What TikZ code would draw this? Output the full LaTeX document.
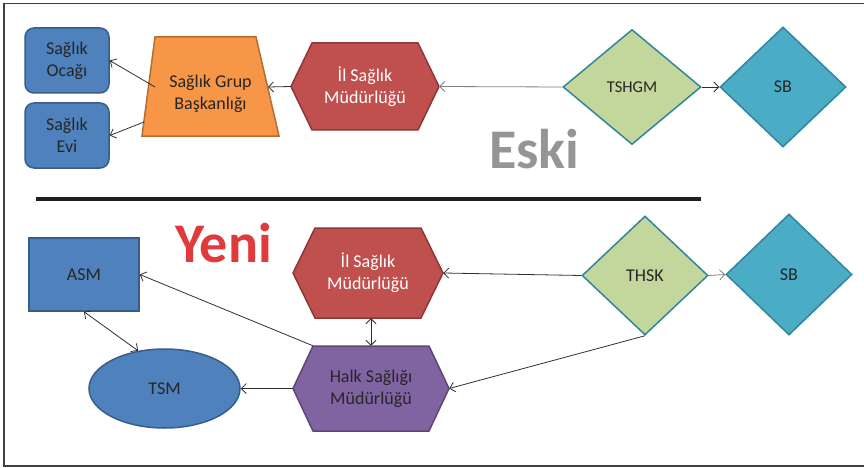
\documentclass[tikz,border=0pt]{standalone}
\usepackage{fontspec}
\setmainfont{Carlito}
\usetikzlibrary{shapes.geometric,arrows.meta}
\definecolor{blueF}{HTML}{4F81BD}
\definecolor{blueD}{HTML}{385D8A}
\definecolor{orangeF}{HTML}{F79646}
\definecolor{orangeD}{HTML}{B66D31}
\definecolor{redF}{HTML}{C0504D}
\definecolor{redD}{HTML}{8C3836}
\definecolor{greenF}{HTML}{C3D69B}
\definecolor{tealD}{HTML}{31859C}
\definecolor{sbF}{HTML}{4BACC6}
\definecolor{purpF}{HTML}{8064A2}
\definecolor{purpD}{HTML}{5C4776}
\definecolor{txt}{HTML}{262626}
\definecolor{linec}{HTML}{303030}
\definecolor{grayl}{HTML}{808080}
\definecolor{framec}{HTML}{404040}
\definecolor{sepC}{HTML}{1F1F1F}
\definecolor{eskiC}{HTML}{959595}
\definecolor{yeniC}{HTML}{E03A3C}
\newcommand\myhexa[6]{%
  \path[#6] (#1-#3/2,#2) -- (#1-#3/2+#5,#2-#4/2) -- (#1+#3/2-#5,#2-#4/2)
    -- (#1+#3/2,#2) -- (#1+#3/2-#5,#2+#4/2) -- (#1-#3/2+#5,#2+#4/2) -- cycle;}
\begin{document}
\begin{tikzpicture}[x=1pt,y=-1pt,
  lbl/.style={font=\fontsize{18}{22}\selectfont, align=center, text=txt, inner sep=0pt},
  rbox/.style={lbl, rectangle, rounded corners=9pt, fill=blueF, draw=blueD, line width=1.5pt,
    minimum width=84pt, minimum height=65pt},
  dia/.style={lbl, diamond, draw=tealD, line width=1.5pt, inner sep=0pt},
  tip/.tip={Straight Barb[length=5pt,width=10pt]},
  conn/.style={draw=linec, line width=0.8pt, -tip},
  bconn/.style={draw=linec, line width=0.8pt, tip-tip},
  shp/.style={line width=1.5pt, line join=miter}]
\useasboundingbox (0,0) rectangle (864,468);
% frame
\draw[framec, line width=1.3pt] (864,3.5) -- (4,3.5) -- (4,466) -- (864,466);
% separator
\draw[sepC, line width=4pt] (36,199) -- (701,199);

% ---------- Eski ----------
\node[rbox] (ocak) at (67,60.5) {Sağlık\\Ocağı};
\node[rbox] (evi) at (67,135.5) {Sağlık\\Evi};
\path[shp, fill=orangeF, draw=orangeD] (155,37) -- (256,37) -- (279,136) -- (142,136) -- cycle;
\node[lbl] (grup) at (210.5,94) {Sağlık Grup\\Başkanlığı};
\coordinate (gw1) at (155,87);
\coordinate (gw2) at (144,122);
\coordinate (ge) at (268,87);
\myhexa{365}{86.5}{148}{87}{21}{shp, fill=redF, draw=redD}
\node[lbl, text=white, minimum width=148pt, minimum height=87pt] (il1) at (365,86.5) {İl Sağlık\\Müdürlüğü};
\node[dia, fill=greenF, minimum width=138pt, minimum height=115pt,
  font=\fontsize{16.5}{20}\selectfont] (tshgm) at (632,87) {TSHGM};
\node[dia, fill=sbF, minimum width=126pt, minimum height=120pt] (sb1) at (783,87) {SB};
\node[anchor=base west, inner sep=0pt, font=\fontsize{56}{60}\selectfont\bfseries, text=eskiC]
  (eski) at (489,168) {Eski};

\draw[conn, draw=grayl] (tshgm.west) -- (il1.east);
\draw[conn] (il1.west) -- (ge);
\draw[conn] (gw1) -- (ocak.east);
\draw[conn] (gw2) -- (evi.east);
\draw[conn] (tshgm.east) -- (sb1.west);

% ---------- Yeni ----------
\node[anchor=base west, inner sep=0pt, font=\fontsize{56}{60}\selectfont\bfseries, text=yeniC]
  (yeni) at (175,262) {Yeni};
\node[lbl, rectangle, fill=blueF, draw=blueD, line width=1.5pt, minimum width=110pt,
  minimum height=73pt] (asm) at (84,274.5) {ASM};
\node[lbl, ellipse, fill=blueF, draw=blueD, line width=1.5pt, minimum width=151pt,
  minimum height=79pt] (tsm) at (164.5,388.5) {TSM};
\myhexa{368}{273}{150}{90}{22}{shp, fill=redF, draw=redD}
\node[lbl, text=white, minimum width=150pt, minimum height=90pt] (il2) at (368,273) {İl Sağlık\\Müdürlüğü};
\myhexa{371}{388.5}{156}{85}{20}{shp, fill=purpF, draw=purpD}
\node[lbl, minimum width=156pt, minimum height=85pt] (hsm) at (371,388.5) {Halk Sağlığı\\Müdürlüğü};
\node[dia, fill=greenF, minimum width=126pt, minimum height=119pt] (thsk) at (645,275.5) {THSK};
\node[dia, fill=sbF, minimum width=126pt, minimum height=121pt] (sb2) at (789,274.5) {SB};

\draw[conn] (thsk.west) -- (il2.east);
\draw[conn] (thsk.south) -- (hsm.east);
\draw[conn, draw=grayl] (thsk.east) -- (sb2.west);
\draw[bconn] (hsm.north |- il2.south) -- (hsm.north);
\draw[conn] ([xshift=-58pt]hsm.north) -- (asm.east);
\draw[conn] (hsm.west) -- (tsm.east);
\draw[bconn] (asm.south) -- (tsm.125);
\end{tikzpicture}
\end{document}
